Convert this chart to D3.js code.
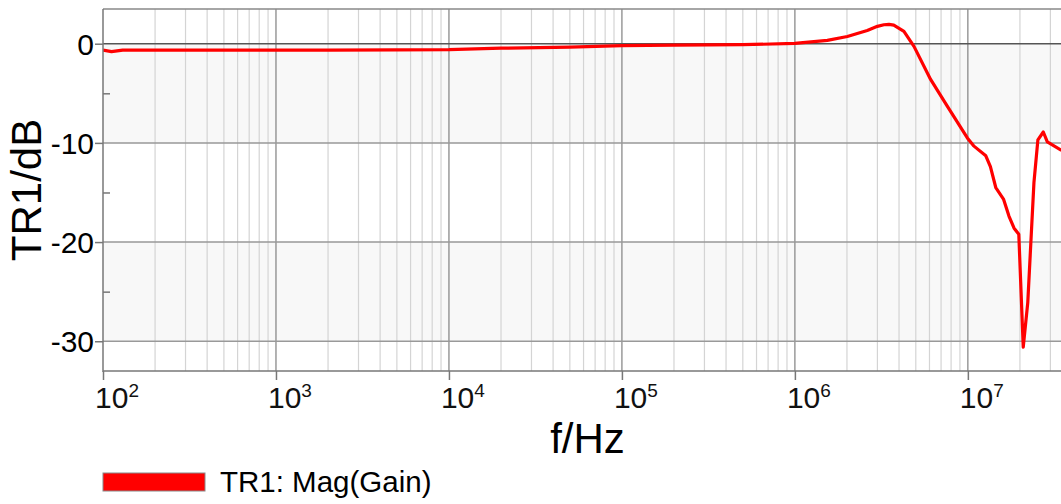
<!DOCTYPE html>
<html lang="en">
  <head>
    <meta charset="UTF-8" />
    <title>TR1 Mag(Gain)</title>
    <style>
      body { margin: 0; background: #fff; }
      svg { display: block; font-family: 'Liberation Sans', Arial, sans-serif; }
      .axis path { display: none; }
      .axis line { stroke: #777; stroke-width: 1.5; }
    </style>
    <script src="https://d3js.org/d3.v7.min.js"></script>
  </head>
  <body>
    <svg width="1061" height="504"></svg>
    <script>
      // frequency in Hz, gain in dB
      var freq = [100, 112, 130, 200, 500, 1e3, 2e3, 5e3, 1e4, 2e4, 5e4, 1e5, 2e5, 5e5,
        1e6, 1.54e6, 2.01e6, 2.62e6, 3e6, 3.27e6, 3.5e6, 3.73e6, 4.27e6, 4.88e6, 6.09e6,
        7.6e6, 9.93e6, 1.08e7, 1.27e7, 1.35e7, 1.45e7, 1.61e7, 1.73e7, 1.85e7, 1.97e7,
        2.09e7, 2.22e7, 2.41e7, 2.54e7, 2.73e7, 2.88e7, 3.44e7, 4e7]
      var gain = [-0.65, -0.8, -0.65, -0.65, -0.65, -0.65, -0.65, -0.62, -0.6, -0.45, -0.35, -0.2, -0.15, -0.1,
        0.03, 0.33, 0.73, 1.34, 1.75, 1.91, 1.95, 1.88, 1.24, -0.27, -3.6,
        -6.3, -9.5, -10.3, -11.3, -12.4, -14.5, -15.7, -17.4, -18.6, -19.2,
        -30.6, -26.1, -14.0, -9.7, -8.9, -9.9, -10.7, -11.2]
      var yTicks = [0, -10, -20, -30]
      var yMinor = [-5, -15, -25]
      var xDecades = [2, 3, 4, 5, 6, 7]

      var margin = { top: 9, left: 103, right: 1072, bottom: 371 }
      var svg = d3.select('svg')

      var x = d3.scaleLog().domain([100, 4e7]).range([margin.left, margin.right])
      var y = d3.scaleLinear().domain([-33, 3.5]).range([margin.bottom, margin.top])

      svg.append('clipPath').attr('id', 'clip')
        .append('rect')
        .attr('x', margin.left).attr('y', margin.top)
        .attr('width', margin.right - margin.left)
        .attr('height', margin.bottom - margin.top)

      var plot = svg.append('g').attr('clip-path', 'url(#clip)')

      // grey bands
      plot.selectAll('rect.band')
        .data([[0, -10], [-20, -30]])
        .enter()
        .append('rect')
        .attr('class', 'band')
        .attr('x', margin.left)
        .attr('width', margin.right - margin.left)
        .attr('y', function(d) { return y(d[0]) })
        .attr('height', function(d) { return y(d[1]) - y(d[0]) })
        .attr('fill', '#f8f8f8')

      // vertical grid
      var minor = []
      xDecades.forEach(function(e) {
        for (var k = 2; k <= 9; k++) minor.push(k * Math.pow(10, e))
      })
      plot.selectAll('line.vminor')
        .data(minor)
        .enter()
        .append('line')
        .attr('x1', function(d) { return x(d) })
        .attr('x2', function(d) { return x(d) })
        .attr('y1', margin.top).attr('y2', margin.bottom)
        .attr('stroke', '#d4d4d4').attr('stroke-width', 1.2)
      plot.selectAll('line.vmajor')
        .data(xDecades.slice(1))
        .enter()
        .append('line')
        .attr('x1', function(d) { return x(Math.pow(10, d)) })
        .attr('x2', function(d) { return x(Math.pow(10, d)) })
        .attr('y1', margin.top).attr('y2', margin.bottom)
        .attr('stroke', '#8a8a8a').attr('stroke-width', 1.3)

      // horizontal grid
      plot.selectAll('line.h')
        .data(yTicks)
        .enter()
        .append('line')
        .attr('x1', margin.left).attr('x2', margin.right)
        .attr('y1', function(d) { return y(d) })
        .attr('y2', function(d) { return y(d) })
        .attr('stroke', function(d) { return d === 0 ? '#555' : '#999' })
        .attr('stroke-width', 1.5)

      // top border
      svg.append('line')
        .attr('x1', margin.left).attr('x2', margin.right)
        .attr('y1', margin.top).attr('y2', margin.top)
        .attr('stroke', '#888').attr('stroke-width', 1.5)

      // curve
      var line = d3.line()
        .x(function(d, i) { return x(freq[i]) })
        .y(function(d) { return y(d) })
      plot.append('path')
        .datum(gain)
        .attr('d', line)
        .attr('fill', 'none')
        .attr('stroke', '#ff0000')
        .attr('stroke-width', 3.2)
        .attr('stroke-linejoin', 'round')

      // y axis
      var yAxis = d3.axisLeft(y).tickValues(yTicks).tickSize(8).tickFormat('')
      svg.append('g')
        .attr('class', 'axis')
        .attr('transform', 'translate(' + margin.left + ',0)')
        .call(yAxis)
      svg.append('g')
        .attr('class', 'axis')
        .attr('transform', 'translate(' + margin.left + ',0)')
        .call(d3.axisRight(y).tickValues(yMinor).tickSize(7).tickFormat(''))
      svg.append('line')
        .attr('x1', margin.left).attr('x2', margin.left)
        .attr('y1', margin.top).attr('y2', margin.bottom + 1)
        .attr('stroke', '#777').attr('stroke-width', 1.5)

      svg.selectAll('text.ylab')
        .data(yTicks)
        .enter()
        .append('text')
        .attr('x', 94)
        .attr('y', function(d) { return y(d) + 11 })
        .attr('text-anchor', 'end')
        .attr('font-size', 30)
        .text(function(d) { return d })

      // x axis
      var xAxis = d3.axisBottom(x)
        .tickValues(xDecades.map(function(e) { return Math.pow(10, e) }))
        .tickSize(9).tickFormat('')
      svg.append('g')
        .attr('class', 'axis')
        .attr('transform', 'translate(0,' + margin.bottom + ')')
        .call(xAxis)
      svg.append('line')
        .attr('x1', margin.left).attr('x2', margin.right)
        .attr('y1', margin.bottom).attr('y2', margin.bottom)
        .attr('stroke', '#777').attr('stroke-width', 1.5)

      var xl = svg.selectAll('text.xlab')
        .data(xDecades)
        .enter()
        .append('text')
        .attr('x', function(d) { return x(Math.pow(10, d)) - 8 })
        .attr('y', 408)
        .attr('font-size', 30)
        .attr('fill', '#111')
      xl.append('tspan').text('10')
      xl.append('tspan')
        .attr('font-size', 19)
        .attr('dy', -11)
        .text(function(d) { return d })

      // axis titles
      svg.append('text')
        .attr('x', (margin.left + margin.right) / 2)
        .attr('y', 453)
        .attr('text-anchor', 'middle')
        .attr('font-size', 42)
        .text('f/Hz')
      svg.append('text')
        .attr('transform', 'translate(41,' + (margin.top + margin.bottom) / 2 + ') rotate(-90)')
        .attr('text-anchor', 'middle')
        .attr('font-size', 42)
        .text('TR1/dB')

      // legend
      svg.append('rect')
        .attr('x', 103).attr('y', 473)
        .attr('width', 102).attr('height', 18)
        .attr('fill', '#ff0000')
        .attr('stroke', '#888').attr('stroke-width', 1)
      svg.append('text')
        .attr('x', 220).attr('y', 492)
        .attr('font-size', 29.5)
        .text('TR1: Mag(Gain)')
    </script>
  </body>
</html>
